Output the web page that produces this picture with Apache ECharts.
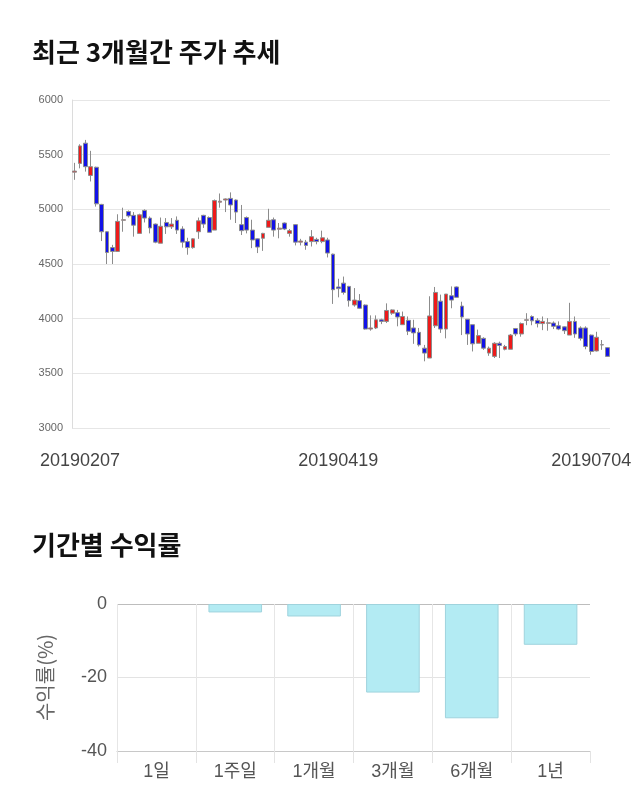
<!DOCTYPE html>
<html><head><meta charset="utf-8">
<script src="https://cdn.jsdelivr.net/npm/echarts@6/dist/echarts.min.js"></script>
<style>html,body{margin:0;padding:0;background:#fff}#c{width:640px;height:810px}</style>
</head><body><div id="c"></div><script>
const opens=[5340,5420,5605,5310,5385,5045,4795,4650,4615,4900,
4980,4945,4780,4990,4920,4865,4690,4880,4840,4900,
4820,4705,4650,4795,4945,4925,4810,5065,5085,5100,
5085,4860,4925,4810,4730,4735,4835,4905,4818,4875,
4780,4860,4700,4700,4705,4725,4705,4720,4590,4290,
4325,4295,4125,4165,4125,3905,3915,3990,3975,4050,
4055,3945,3985,3915,3875,3730,3640,3935,4160,3905,
4210,4290,4115,3995,3945,3775,3820,3685,3655,3775,
3720,3720,3910,3860,3985,4020,3985,3955,3958,3960,
3935,3925,3850,3975,3915,3915,3850,3705,3760,3735];
const closes=[5350,5580,5390,5390,5050,4795,4605,4615,4890,4905,
4940,4855,4950,4920,4830,4700,4845,4840,4865,4810,
4700,4650,4730,4895,4865,4790,5080,5075,5095,5040,
4975,4805,4810,4720,4655,4780,4900,4810,4828,4820,
4805,4700,4710,4670,4750,4705,4740,4600,4265,4275,
4240,4165,4170,4095,3905,3915,3990,3975,4075,4080,
4015,4020,3885,3870,3760,3685,4025,4240,3905,4225,
4170,4195,4015,3860,3770,3845,3730,3730,3775,3755,
3745,3850,3860,3955,3990,3980,3955,3975,3962,3930,
3905,3890,3975,3860,3820,3745,3700,3830,3762,3655];
const lows=[5270,5375,5345,5255,5025,4710,4500,4500,4610,4795,
4925,4750,4780,4880,4780,4690,4690,4775,4820,4775,
4650,4585,4640,4730,4830,4790,4810,5015,4975,4905,
4875,4765,4780,4645,4600,4620,4835,4750,4735,4810,
4750,4670,4670,4630,4660,4680,4690,4560,4135,4195,
4220,4110,4110,4090,3900,3890,3905,3950,3960,4035,
3930,3945,3850,3770,3745,3610,3640,3915,3870,3820,
4095,4195,3850,3760,3700,3775,3715,3660,3640,3640,
3710,3720,3840,3835,3940,3940,3920,3895,3890,3905,
3895,3860,3850,3825,3800,3720,3670,3700,3715,3650];
const highs=[5425,5595,5635,5535,5390,5050,4800,4675,4955,5015,
4990,4975,4960,5000,4935,4870,4925,4920,4920,4935,
4845,4740,4735,4925,4950,4935,5090,5145,5100,5155,
5090,5040,4935,4905,4735,4785,5005,4925,4875,4880,
4820,4865,4730,4720,4810,4740,4805,4740,4595,4365,
4385,4300,4280,4225,4130,4030,4030,4000,4140,4085,
4080,4065,4020,3990,3915,3760,4205,4290,4220,4225,
4295,4295,4155,3995,3945,3900,3830,3745,3785,3790,
3760,3860,3915,3965,4050,4030,4005,4020,4005,3975,
3975,3930,4145,4020,3930,3930,3855,3880,3805,3740];
const dateLabels=['20190207','20190419','20190704'];
const dateLabelIndex=[1,49,96];
const periods=['1일','1주일','1개월','3개월','6개월','1년'];
const returns=[0,-2.3,-3.4,-24.1,-31.1,-11.1];

const categories=opens.map((_,i)=>String(i));
const candles=opens.map((o,i)=>[o,closes[i],lows[i],highs[i]]);
const barData=returns.map(v=>v===0?{value:v,itemStyle:{borderColor:'transparent',color:'transparent'}}:v);
const FONT="'Liberation Sans','Noto Sans CJK KR',sans-serif";
const vLineColors=periods.map(()=> '#e6e6e6').concat(['rgba(0,0,0,0)']);
const chart=echarts.init(document.getElementById('c'),null,{renderer:'canvas'});
chart.setOption({
  animation:false,
  backgroundColor:'#fff',
  title:[
    {text:'최근 3개월간 주가 추세',left:27,top:34,textStyle:{fontSize:26,fontWeight:'bold',color:'#111',fontFamily:"'Noto Sans CJK KR',sans-serif"}},
    {text:'기간별 수익률',left:27,top:527,textStyle:{fontSize:26,fontWeight:'bold',color:'#111',fontFamily:"'Noto Sans CJK KR',sans-serif"}}
  ],
  grid:[
    {left:72,right:30,top:100,height:328},
    {left:117,right:50,top:604,height:147}
  ],
  xAxis:[
    {type:'category',gridIndex:0,data:categories,boundaryGap:true,
     axisLine:{show:false},axisTick:{show:false},splitLine:{show:false},
     axisLabel:{interval:(i)=>dateLabelIndex.includes(i),
       formatter:(v,i)=>{const k=dateLabelIndex.indexOf(i);return k>=0?dateLabels[k]:'';},
       fontSize:18,color:'#444',margin:24,fontFamily:FONT}},
    {type:'category',gridIndex:1,data:periods,
     axisLine:{show:true,onZero:false,lineStyle:{color:'#c8c8c8'}},
     axisTick:{show:true,length:12,lineStyle:{color:'#e3e3e3'}},
     splitLine:{show:true,lineStyle:{color:vLineColors}},
     axisLabel:{fontSize:18,color:'#555',margin:12,fontFamily:FONT}}
  ],
  yAxis:[
    {type:'value',gridIndex:0,min:3000,max:6000,interval:500,
     axisLine:{show:true,lineStyle:{color:'#dcdcdc'}},axisTick:{show:false},
     axisLabel:{fontSize:11,color:'#666',margin:9,fontFamily:FONT,formatter:(v)=>String(v)},
     splitLine:{lineStyle:{color:'#e6e6e6'}}},
    {type:'value',gridIndex:1,min:-40,max:0,interval:20,
     axisLine:{show:false},axisTick:{show:false},
     axisLabel:{fontSize:18,color:'#555',margin:10,fontFamily:FONT},
     splitLine:{lineStyle:{color:['#c8c8c8','#e3e3e3','#bdbdbd']}},
     name:'수익률(%)',nameLocation:'middle',nameGap:62,
     nameTextStyle:{fontSize:20,color:'#666',fontFamily:"'Noto Sans CJK KR',sans-serif"}}
  ],
  series:[
    {type:'candlestick',xAxisIndex:0,yAxisIndex:0,data:candles,barWidth:'80%',
     itemStyle:{color:'#ee1a1a',color0:'#1212e8',borderColor:'#8c8c8c',borderColor0:'#8c8c8c',borderWidth:1}},
    {type:'bar',xAxisIndex:1,yAxisIndex:1,data:barData,barWidth:'68%',
     itemStyle:{color:'#b3ebf3',borderColor:'#9fd3dd',borderWidth:1}}
  ]
});
</script></body></html>
